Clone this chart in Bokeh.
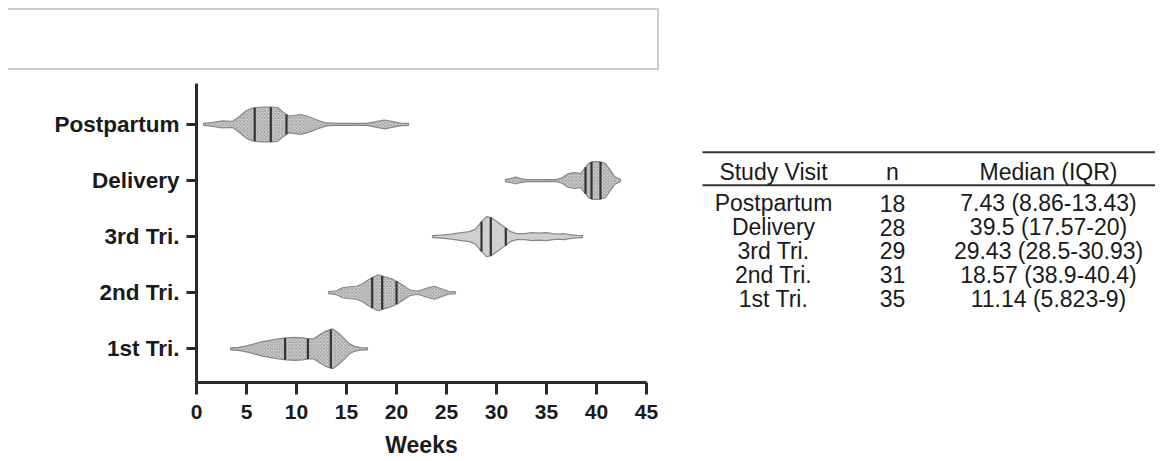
import numpy as np
from bokeh.plotting import figure
from bokeh.models import Range1d, FixedTicker, Div
from bokeh.layouts import column, row
from bokeh.embed import file_html
from bokeh.resources import INLINE
from bokeh.core.properties import value

# ---------------- data ----------------
categories = ["1st Tri.", "2nd Tri.", "3rd Tri.", "Delivery", "Postpartum"]

# violin profiles: gestational weeks and relative density (half-width)
tri1_weeks = [3.4, 4.2, 5.0, 5.8, 6.5, 7.3, 8.2, 9.0, 9.8, 10.6, 11.2, 11.7, 12.3, 13.0, 13.6, 14.2, 14.8, 15.3, 15.8, 16.4, 17.1]
tri1_dens = [1, 1.5, 3, 5, 7, 8.5, 10, 11, 11.5, 11, 10, 10, 14, 18, 20, 16, 10, 5, 2.5, 1.2, 1]

tri2_weeks = [13.2, 14.0, 14.6, 15.3, 16.0, 16.6, 17.2, 17.7, 18.2, 18.8, 19.5, 20.1, 20.7, 21.3, 21.8, 22.3, 23.0, 23.8, 24.5, 25.2, 25.9]
tri2_dens = [1, 2, 5, 6, 6.5, 9, 13, 16, 18, 16, 14, 11, 7, 3, 2, 2, 4.5, 6.5, 4, 1.5, 1]

tri3_weeks = [23.6, 24.5, 25.5, 26.5, 27.3, 27.9, 28.5, 29.0, 29.5, 30.2, 30.9, 31.4, 32.0, 32.8, 33.6, 34.2, 35.0, 35.6, 36.2, 36.7, 37.3, 38.0, 38.6]
tri3_dens = [1, 1.5, 2.5, 4, 5, 7.5, 15, 20, 19, 14, 9, 5, 3, 3, 4, 3.5, 4, 3, 2.5, 3, 2, 1.2, 1]

deliv_weeks = [30.9, 31.4, 31.9, 32.4, 33.0, 36.0, 36.6, 37.2, 37.8, 38.4, 38.8, 39.2, 39.6, 40.3, 40.9, 41.4, 41.8, 42.4]
deliv_dens = [1, 2, 3.5, 2, 1, 1, 3, 7, 8, 7, 12, 17, 19, 19, 17, 10, 4, 1]

post_weeks = [0.7, 1.5, 2.6, 3.6, 4.3, 5.0, 5.6, 6.5, 7.5, 8.1, 8.7, 9.2, 9.7, 10.4, 11.2, 12.2, 13.0, 14.0, 17.0, 17.8, 18.8, 19.8, 20.5, 21.2]
post_dens = [1, 1.8, 3.5, 3, 8, 14, 16.5, 17.5, 17.5, 17, 12, 8.5, 9, 10, 8, 4, 1.5, 1, 1, 2.5, 4.5, 2.5, 1.2, 1]

q1 = [8.86, 17.57, 28.5, 38.9, 5.823]
medians = [11.14, 18.57, 29.43, 39.5, 7.43]
q3 = [13.43, 20.0, 30.93, 40.4, 9.0]

x_ticks = [0, 5, 10, 15, 20, 25, 30, 35, 40, 45]

table_headers = ["Study Visit", "n", "Median (IQR)"]
table_visits = ["Postpartum", "Delivery", "3rd Tri.", "2nd Tri.", "1st Tri."]
table_n = ["18", "28", "29", "31", "35"]
table_median_iqr = ["7.43 (8.86-13.43)", "39.5 (17.57-20)", "29.43 (28.5-30.93)",
                    "18.57 (38.9-40.4)", "11.14 (5.823-9)"]

profiles = [(tri1_weeks, tri1_dens), (tri2_weeks, tri2_dens), (tri3_weeks, tri3_dens),
            (deliv_weeks, deliv_dens), (post_weeks, post_dens)]

FONT = "Liberation Sans"

# ---------------- top empty box ----------------
box = Div(text="", width=651, height=62, margin=(8, 0, 0, 8),
          styles={"border-top": "2px solid #cccccc", "border-right": "2px solid #cccccc",
                  "border-bottom": "2px solid #cccccc", "box-sizing": "border-box"})

# ---------------- violin plot ----------------
BT, BB, FH = 13, 77, 300
p = figure(width=658, height=BT + FH + BB, output_backend="svg", toolbar_location=None,
           x_range=Range1d(0, 45), y_range=Range1d(-0.6, 4.73),
           min_border_left=196, min_border_right=12, min_border_top=BT, min_border_bottom=BB)
p.outline_line_color = None
p.grid.visible = False

scale = 1.0 / 56.25
for i, (wk, dn) in enumerate(profiles):
    wk = np.array(wk, dtype=float)
    dn = np.array(dn, dtype=float) * scale
    xs = np.concatenate([wk, wk[::-1]])
    ys = np.concatenate([i + dn, (i - dn)[::-1]])
    if categories[i] == "3rd Tri.":
        p.patch(xs, ys, fill_color="#d0d0d0", line_color="#888888", line_width=1.2)
    else:
        p.patch(xs, ys, fill_color="#d0d0d0", line_color="#888888", line_width=1.2,
                hatch_pattern="diagonal_cross", hatch_color="#777777",
                hatch_scale=3.5, hatch_weight=0.6)
    for q in (q1[i], medians[i], q3[i]):
        h = float(np.interp(q, wk, dn))
        p.segment(x0=[q], y0=[i - h], x1=[q], y1=[i + h], line_color="#333333", line_width=2.2)

p.xaxis.ticker = FixedTicker(ticks=x_ticks)
p.xaxis.axis_label = "Weeks"
p.xaxis.axis_label_text_font = FONT
p.xaxis.axis_label_text_font_style = "bold"
p.xaxis.axis_label_text_font_size = "23px"
p.xaxis.axis_label_text_color = "#1a1a1a"
p.xaxis.axis_label_standoff = 10
p.xaxis.major_tick_out = 12
p.xaxis.major_label_standoff = 10

p.yaxis.ticker = FixedTicker(ticks=list(range(len(categories))))
p.yaxis.major_label_overrides = {i: c for i, c in enumerate(categories)}
p.yaxis.major_tick_out = 10
p.yaxis.major_label_standoff = 7

for ax in (p.xaxis, p.yaxis):
    ax.axis_line_width = 3
    ax.axis_line_color = "#2a2a2a"
    ax.major_tick_line_width = 3
    ax.major_tick_line_color = "#2a2a2a"
    ax.major_tick_in = 0
    ax.minor_tick_line_color = None
    ax.major_label_text_font = FONT
    ax.major_label_text_font_style = "bold"
    ax.major_label_text_color = "#1a1a1a"
p.xaxis.major_label_text_font_size = "21px"
p.yaxis.major_label_text_font_size = "22.5px"

# ---------------- table (page-pixel coordinates inside the frame) ----------------
t = figure(width=497, height=BT + FH + BB, output_backend="svg", toolbar_location=None,
           x_range=Range1d(658, 1155), y_range=Range1d(70 + BT + FH, 70 + BT),
           min_border_left=0, min_border_right=0, min_border_top=BT, min_border_bottom=BB)
t.axis.visible = False
t.grid.visible = False
t.outline_line_color = None

col_x = [773, 892, 1048]
header_y = 172
row_y0, row_step = 203, 24

t.segment(x0=[702, 702], y0=[152, 185], x1=[1155, 1155], y1=[152, 185],
          line_color="#333333", line_width=2)
t.text(x=col_x, y=[header_y] * 3, text=table_headers, text_align="center",
       text_baseline="middle", text_font=value(FONT), text_font_size="23px", text_color="#1a1a1a")
rows_y = [row_y0 + row_step * k for k in range(len(table_visits))]
for cx, col in zip(col_x, (table_visits, table_n, table_median_iqr)):
    t.text(x=[cx] * len(col), y=rows_y, text=col, text_align="center",
           text_baseline="middle", text_font=value(FONT), text_font_size="23px", text_color="#1a1a1a")

layout = column(box, row(p, t))
open("out.html", "w").write(file_html(layout, INLINE))
